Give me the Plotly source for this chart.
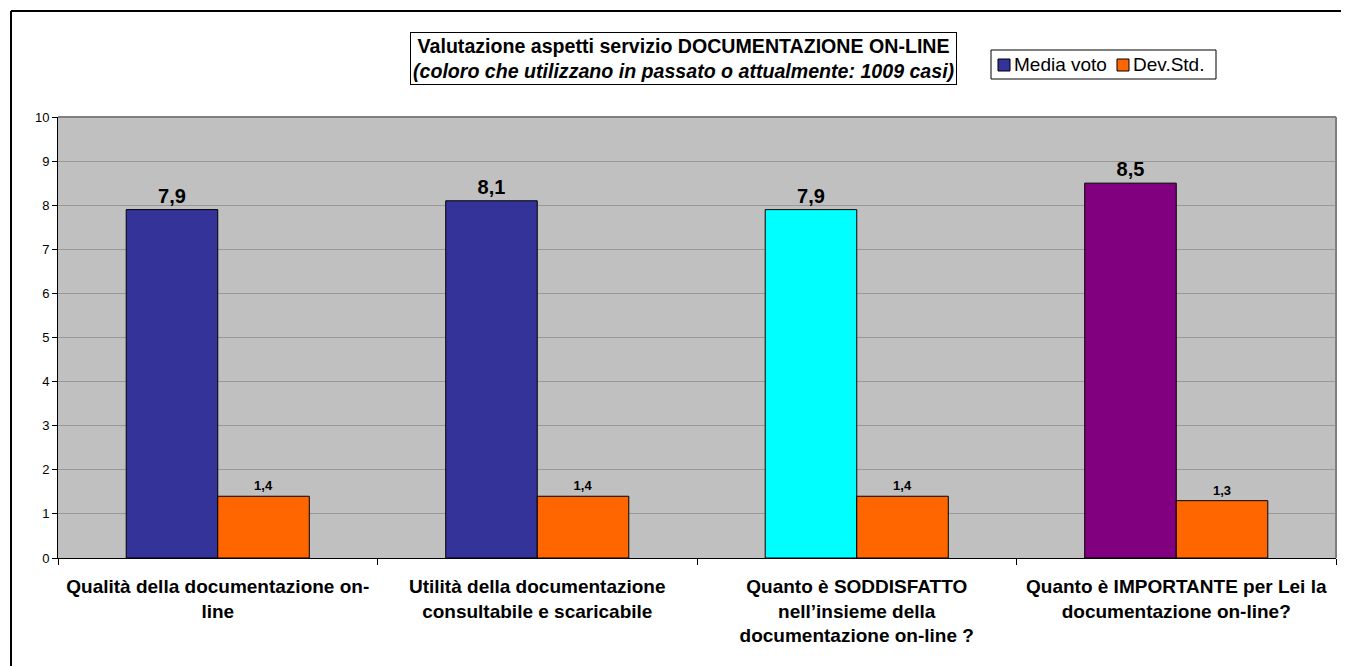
import plotly.graph_objects as go

# Survey items (x categories) and their scores
categories = [
    "Qualità della documentazione on-<br>line",
    "Utilità della documentazione<br>consultabile e scaricabile",
    "Quanto è SODDISFATTO<br>nell’insieme della<br>documentazione on-line ?",
    "Quanto è IMPORTANTE per Lei la<br>documentazione on-line?",
]
series_names = ["Media voto", "Dev.Std."]
media_voto = [7.9, 8.1, 7.9, 8.5]
dev_std = [1.4, 1.4, 1.4, 1.3]
media_colors = ["#333399", "#333399", "#00FFFF", "#800080"]
dev_color = "#FF6600"
y_ticks = [0, 1, 2, 3, 4, 5, 6, 7, 8, 9, 10]

FONT = "Liberation Sans, Arial, sans-serif"

fig = go.Figure()
fig.add_trace(go.Bar(
    name=series_names[0], x=categories, y=media_voto,
    marker=dict(color=media_colors, line=dict(color="black", width=1)),
    texttemplate="<b>%{y:.1f}</b>", textposition="outside",
    textfont=dict(family=FONT, size=20, color="black"),
    cliponaxis=False,
))
fig.add_trace(go.Bar(
    name=series_names[1], x=categories, y=dev_std,
    marker=dict(color=dev_color, line=dict(color="black", width=1)),
    texttemplate="<b>%{y:.1f}</b>", textposition="outside",
    textfont=dict(family=FONT, size=13, color="black"),
    cliponaxis=False,
))

W, H = 1345, 666
L, R, T, B = 58, 9, 117, 108
pw, ph = W - L - R, H - T - B

def px_x(x):
    return (x - L) / pw

def px_y(y):
    return (H - B - y) / ph

fig.update_layout(
    width=W, height=H,
    margin=dict(l=L, r=R, t=T, b=B),
    paper_bgcolor="white", plot_bgcolor="#C0C0C0",
    separators=",.",
    barmode="group", bargap=0.427, bargroupgap=0,
    font=dict(family=FONT, color="black"),
    showlegend=False,
    xaxis=dict(
        type="category", tickson="boundaries",
        ticks="outside", ticklen=6, tickcolor="black",
        showline=True, linecolor="black", linewidth=1,
        showgrid=False,
        tickfont=dict(family=FONT, size=19, color="black"),
        ticklabelstandoff=11,
        tickprefix="<b>", ticksuffix="</b>",
    ),
    yaxis=dict(
        range=[0, 10], tickvals=y_ticks,
        ticks="outside", ticklen=5, tickcolor="black",
        showline=True, linecolor="black", linewidth=1,
        showgrid=True, gridcolor="#999999", gridwidth=1,
        zeroline=False,
        tickfont=dict(family=FONT, size=13, color="black"),
    ),
)

# Plot area frame (top and right edges)
fig.add_shape(type="line", xref="paper", yref="paper", x0=0, x1=1, y0=1, y1=1,
              line=dict(color="#808080", width=2))
fig.add_shape(type="line", xref="paper", yref="paper", x0=1, x1=1, y0=0, y1=1,
              line=dict(color="#808080", width=2))
# Outer chart border (top and left edges in view)
fig.add_shape(type="line", xref="paper", yref="paper",
              x0=px_x(11), x1=px_x(1341), y0=px_y(11), y1=px_y(11),
              line=dict(color="black", width=2))
fig.add_shape(type="line", xref="paper", yref="paper",
              x0=px_x(11), x1=px_x(11), y0=px_y(11), y1=px_y(666),
              line=dict(color="black", width=2))

# Boxed chart title
fig.add_annotation(
    xref="paper", yref="paper", x=px_x(683), y=px_y(32),
    xanchor="center", yanchor="top", showarrow=False,
    text="<b>Valutazione aspetti servizio DOCUMENTAZIONE ON-LINE</b><br>"
         "<b><i>(coloro che utilizzano in passato o attualmente: 1009 casi)</i></b>",
    font=dict(family=FONT, size=19.6, color="black"),
    bgcolor="white", bordercolor="black", borderwidth=1, borderpad=2,
    align="center",
)

# Legend box with swatches
fig.add_shape(type="rect", xref="paper", yref="paper",
              x0=px_x(991), x1=px_x(1216), y0=px_y(79), y1=px_y(50),
              line=dict(color="black", width=1), fillcolor="white")
legend_items = [
    (series_names[0], media_colors[0], 998),
    (series_names[1], dev_color, 1117),
]
for name, color, sx in legend_items:
    fig.add_shape(type="rect", xref="paper", yref="paper",
                  x0=px_x(sx), x1=px_x(sx + 12), y0=px_y(71), y1=px_y(59),
                  line=dict(color="black", width=1), fillcolor=color)
    fig.add_annotation(
        xref="paper", yref="paper", x=px_x(sx + 15), y=px_y(65),
        xanchor="left", yanchor="middle", showarrow=False,
        text=name, font=dict(family=FONT, size=19, color="black"),
        borderpad=0,
    )

fig.write_html("out.html", config={"displayModeBar": False})
